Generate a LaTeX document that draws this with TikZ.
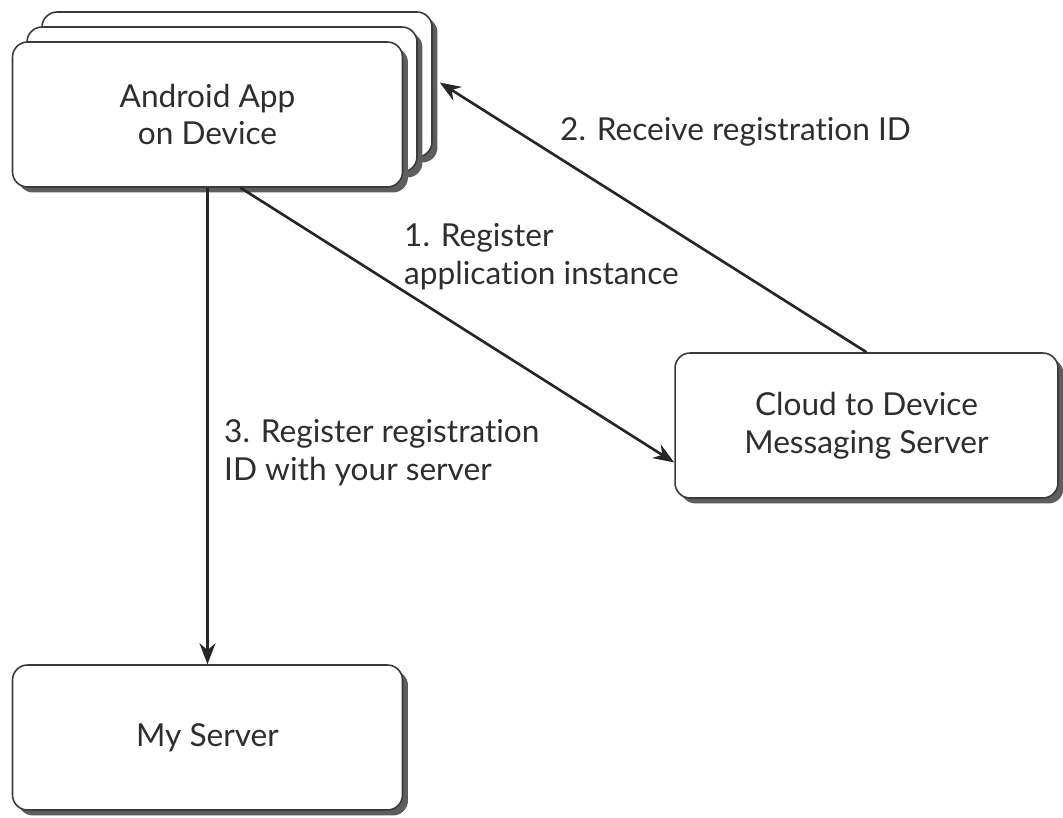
\documentclass[tikz,border=0pt]{standalone}
\usepackage{fontspec}
\setmainfont{Lato}[Ligatures=NoCommon]
\usepackage{xcolor}
\usetikzlibrary{positioning, shadows, arrows.meta, calc}

\definecolor{boxline}{HTML}{3A3A3A}
\definecolor{boxshade}{HTML}{5E5E5E}
\definecolor{labeltext}{HTML}{2E2E2E}

\begin{document}
\begin{tikzpicture}[x=0.02cm, y=-0.02cm,
    every node/.style={text=labeltext, font=\fontsize{18}{21.5}\selectfont},
    box/.style={draw=boxline, line width=0.9pt, fill=white, rounded corners=0.3cm,
        minimum width=7.8cm, minimum height=2.9cm, align=center,
        drop shadow={shadow xshift=0.11cm, shadow yshift=-0.11cm, fill=boxshade, opacity=1}},
    flow/.style={draw=black!85, line width=1.5pt, -{Stealth[length=0.42cm, width=0.32cm]}},
    note/.style={align=left, anchor=west}]

    \useasboundingbox (0,0) rectangle (1063,818);

    % stacked device boxes
    \node (devback) [box] at (237,84.5) {};
    \node (devmid) [box] at (222,99.5) {};
    \node (device) [box] at (207.5,114.5) {Android App\\on Device};

    \node (cloud) [box, minimum width=7.66cm] at (866.5,425.5) {Cloud to Device\\Messaging Server};

    \node (myserver) [box] at (207.5,737.5) {My Server};

    \draw [flow] ($(device.south)+(33,0)$) -- ($(cloud.west)+(0,37)$);
    \draw [flow] (cloud.north) -- ($(devback.east)+(7,-2)$);
    \draw [flow] (device.south) -- (myserver.north);

    \node (regapp) [note] at (398,257) {1. Register\\application instance};
    \node (recvid) [note] at (554,132) {2. Receive registration ID};
    \node (regsrv) [note] at (218,453) {3. Register registration\\ID with your server};

\end{tikzpicture}
\end{document}
